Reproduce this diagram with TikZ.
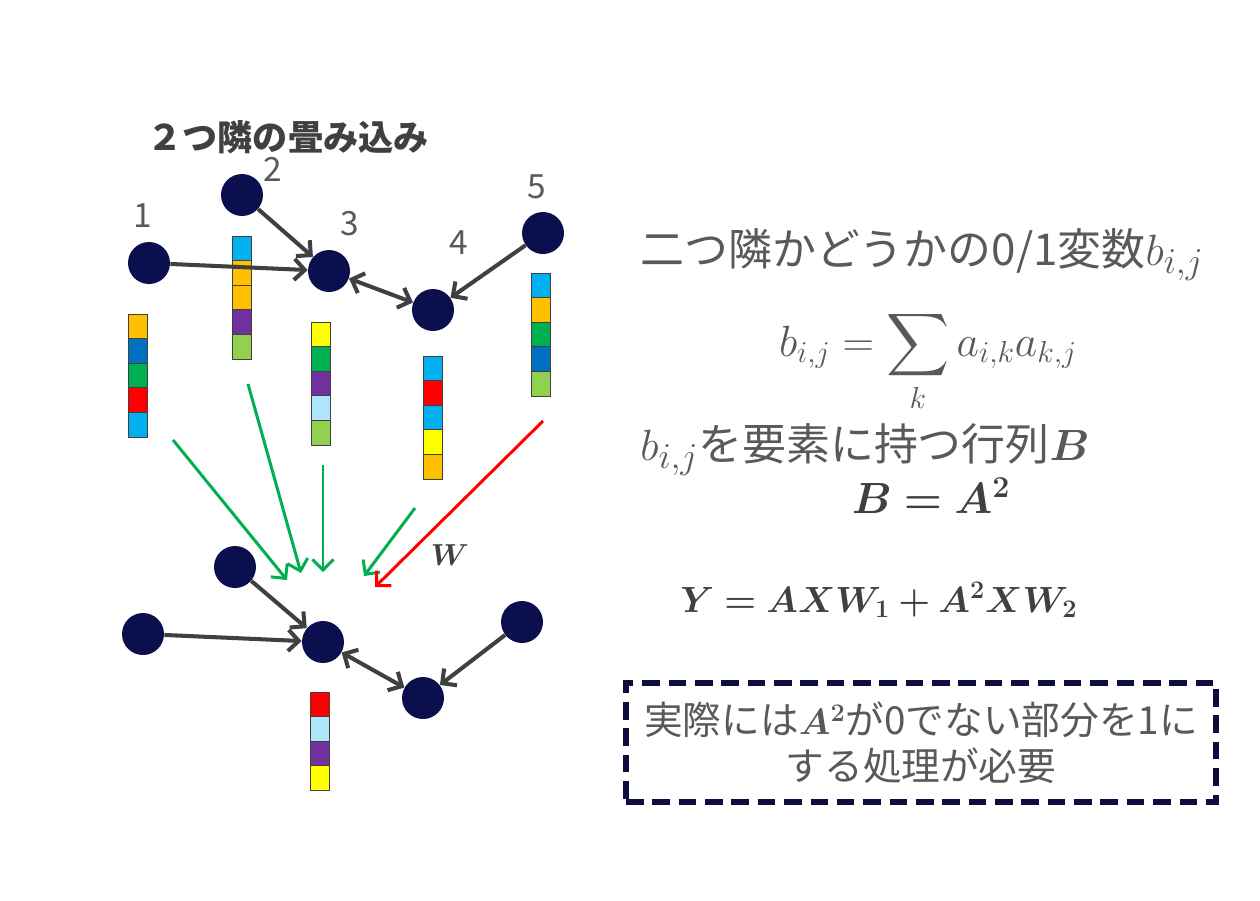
\documentclass[tikz,border=0pt]{standalone}
\usepackage{amsmath,bm}
\usepackage{fontspec}
\setmainfont{Noto Sans CJK JP}
\usepackage{xcolor}
\usepackage{tikz}
\usetikzlibrary{arrows.meta,positioning}
\definecolor{cNode}{HTML}{0C0F4E}
\definecolor{cEdge}{HTML}{404040}
\definecolor{cText}{HTML}{595959}
\definecolor{cDark}{HTML}{404040}
\definecolor{cAgg}{HTML}{00B050}
\definecolor{cWgt}{HTML}{FF0000}
\definecolor{cBox}{HTML}{0D0D3F}
\definecolor{fOrange}{HTML}{FFC000}
\definecolor{fBlue}{HTML}{0070C0}
\definecolor{fGreen}{HTML}{00B050}
\definecolor{fRed}{HTML}{FF0000}
\definecolor{fCyan}{HTML}{00B0F0}
\definecolor{fPurple}{HTML}{7030A0}
\definecolor{fLime}{HTML}{92D050}
\definecolor{fYellow}{HTML}{FFFF00}
\definecolor{fPale}{HTML}{AEE6FA}
\newcommand{\mbig}[1]{{\fontsize{28}{30}\selectfont$#1$}}
\tikzset{
  gnode/.style = {circle, fill=cNode, minimum size=0.84cm, inner sep=0pt},
  nlab/.style  = {text=cText, inner sep=0pt, font=\fontsize{19}{19}\selectfont},
  cell/.style  = {rectangle, draw=black!75, line width=0.5pt, minimum width=0.38cm,
                  minimum height=0.49cm, inner sep=0pt},
  ed/.style    = {-{Straight Barb[length=6pt,width=12pt]}, draw=cEdge, line width=2.3pt},
  edd/.style   = {{Straight Barb[length=6pt,width=12pt]}-{Straight Barb[length=6pt,width=12pt]},
                  draw=cEdge, line width=2.3pt},
  agg/.style   = {-{Straight Barb[length=6pt,width=12pt]}, draw=cAgg, line width=1.7pt},
  wgt/.style   = {agg, draw=cWgt},
  txt/.style   = {text=cText, inner sep=0pt, font=\fontsize{25}{30}\selectfont},
  eq/.style    = {text=cDark, inner sep=0pt, font=\fontsize{25}{30}\selectfont},
  note/.style  = {rectangle, draw=cBox, line width=3.2pt, dash pattern=on 10pt off 5pt,
                  minimum width=11.8cm, minimum height=2.38cm, align=center, text=cText,
                  font=\fontsize{22}{26}\selectfont},
}
\begin{document}
\begin{tikzpicture}[x=0.02cm, y=-0.02cm]
  \fill[white] (0,0) rectangle (1260,900);
  \useasboundingbox (0,0) rectangle (1260,900);

  \node[font=\fontsize{20}{20}\selectfont\bfseries, text=cDark] (title) at (288,137) {２つ隣の畳み込み};

  % feature vectors
  \foreach \c [count=\i] in {fOrange,fBlue,fGreen,fRed,fCyan}
    \node[cell, fill=\c] (va\i) at (137.5,{326.3+24.6*(\i-1)}) {};
  \foreach \c [count=\i] in {fCyan,fOrange,fOrange,fPurple,fLime}
    \node[cell, fill=\c] (vb\i) at (242,{248.3+24.6*(\i-1)}) {};
  \foreach \c [count=\i] in {fYellow,fGreen,fPurple,fPale,fLime}
    \node[cell, fill=\c] (vc\i) at (320.5,{334.3+24.6*(\i-1)}) {};
  \foreach \c [count=\i] in {fCyan,fRed,fCyan,fYellow,fOrange}
    \node[cell, fill=\c] (vd\i) at (432.5,{368.3+24.6*(\i-1)}) {};
  \foreach \c [count=\i] in {fCyan,fOrange,fGreen,fBlue,fLime}
    \node[cell, fill=\c] (ve\i) at (540.5,{285.3+24.6*(\i-1)}) {};
  \foreach \c [count=\i] in {fRed,fPale,fPurple,fYellow}
    \node[cell, fill=\c] (vo\i) at (320,{704.3+24.6*(\i-1)}) {};

  % input graph
  \node[gnode] (a1) at (149,263) {};
  \node[gnode] (a2) at (242,195) {};
  \node[gnode] (a3) at (329,271) {};
  \node[gnode] (a4) at (433,310) {};
  \node[gnode] (a5) at (543,233) {};
  \node[nlab] (l1) at (143,216) {1};
  \node[nlab] (l2) at (273,169) {2};
  \node[nlab] (l3) at (350,224) {3};
  \node[nlab] (l4) at (459,243) {4};
  \node[nlab] (l5) at (537,187) {5};
  \draw[ed] (a1) -- (a3);
  \draw[ed] (a2) -- (a3);
  \draw[edd] (a3) -- (a4);
  \draw[ed] (a5) -- (a4);

  % output graph
  \node[gnode] (b1) at (143,634) {};
  \node[gnode] (b2) at (235,567) {};
  \node[gnode] (b3) at (323,642) {};
  \node[gnode] (b4) at (423,698) {};
  \node[gnode] (b5) at (522,622) {};
  \draw[ed] (b1) -- (b3);
  \draw[ed] (b2) -- (b3);
  \draw[edd] (b3) -- (b4);
  \draw[ed] (b5) -- (b4);

  % aggregation
  \coordinate (s1) at (173,440); \coordinate (t1) at (287,580);
  \coordinate (s2) at (248,384); \coordinate (t2) at (301,573);
  \coordinate (s3) at (323,465); \coordinate (t3) at (323,572);
  \coordinate (s4) at (415,508); \coordinate (t4) at (364,576);
  \coordinate (s5) at (543,421); \coordinate (t5) at (375,587);
  \draw[agg] (s1) -- (t1);
  \draw[agg] (s2) -- (t2);
  \draw[agg] (s3) -- (t3);
  \draw[agg] (s4) -- (t4);
  \draw[wgt] (s5) -- (t5);
  \node[eq, font=\fontsize{16}{16}\selectfont] (w) at (450,555) {$\bm{W}$};

  % right side
  \node[txt, anchor=base west] (q1) at (640,265) {二つ隣かどうかの0/1変数\mbig{b_{i,j}}};
  \node[txt, anchor=base, font=\fontsize{27}{30}\selectfont] (q2) at (928,356) {$\displaystyle b_{i,j} = \sum_k a_{i,k}a_{k,j}$};
  \node[txt, anchor=base west] (q3) at (640,460) {\mbig{b_{i,j}}を要素に持つ行列\mbig{\bm{B}}};
  \node[eq, anchor=base] (q4) at (931,513) {$\bm{B = A^2}$};
  \node[eq, anchor=base west, font=\fontsize{21}{26}\selectfont] (q5) at (680,612) {$\bm{Y = AXW_1 + A^2XW_2}$};
  \node[note] (memo) at (921,742.5) {実際には$\bm{A^2}$が0でない部分を1に\\する処理が必要};
\end{tikzpicture}
\end{document}
